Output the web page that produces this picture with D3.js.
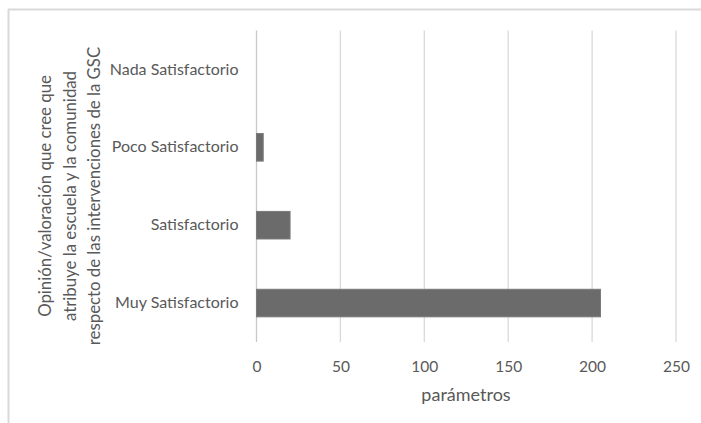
<!DOCTYPE html>
<html><head><meta charset="utf-8">
<script src="https://cdn.jsdelivr.net/npm/d3@7"></script>
<style>body{margin:0;background:#fff}svg{display:block}</style>
</head><body><svg id="c" width="701" height="423"></svg>
<script>
const categories = ["Nada Satisfactorio", "Poco Satisfactorio", "Satisfactorio", "Muy Satisfactorio"];
const values = [0, 4, 20, 205];
const xTicks = [0, 50, 100, 150, 200, 250];
const yTitleLines = ["Opinión/valoración que cree que", "atribuye la escuela y la comunidad", "respecto de las intervenciones de la GSC"];
const xTitle = "parámetros";

const svg = d3.select("#c");
const font = "Lato, 'Open Sans', sans-serif";
const textColor = "#595959";

// frame
svg.append("line").attr("x1", 8).attr("x2", 701).attr("y1", 9.5).attr("y2", 9.5).attr("stroke", "#d9d9d9").attr("stroke-width", 2);
svg.append("line").attr("x1", 8.5).attr("x2", 8.5).attr("y1", 9).attr("y2", 423).attr("stroke", "#d9d9d9").attr("stroke-width", 2);

const x = d3.scaleLinear().domain([0, 250]).range([256.5, 676]);
const y = d3.scaleBand().domain(categories).range([30.5, 342]).paddingInner(0.646).paddingOuter(0.323);

// gridlines
svg.append("g").selectAll("line").data(xTicks).join("line")
  .attr("x1", d => x(d)).attr("x2", d => x(d)).attr("y1", 30.5).attr("y2", 342)
  .attr("stroke", d => d === 0 ? "#c8c8c8" : "#d9d9d9").attr("stroke-width", 1.3);

// bars
svg.append("g").selectAll("rect").data(values).join("rect")
  .attr("x", x(0)).attr("y", (d, i) => y(categories[i]))
  .attr("width", d => x(d) - x(0)).attr("height", y.bandwidth())
  .attr("fill", "#6b6b6b").attr("stroke", d => d > 0 ? "#7a7a7a" : "none").attr("stroke-width", 1);

// x axis tick labels
const xAxis = d3.axisBottom(x).tickValues(xTicks).tickSize(0).tickPadding(0);
const gx = svg.append("g").attr("transform", "translate(0,361)").call(xAxis);
gx.select(".domain").remove();
gx.selectAll("text").attr("font-family", font).attr("font-size", 15.5).attr("fill", textColor);

// y axis labels
const yAxis = d3.axisLeft(y).tickSize(0).tickPadding(18);
const gy = svg.append("g").attr("transform", `translate(${x(0)},0)`).call(yAxis);
gy.select(".domain").remove();
gy.selectAll("text").attr("font-family", font).attr("font-size", 16).attr("fill", textColor);

// x title
svg.append("text").attr("x", 466).attr("y", 401).attr("text-anchor", "middle")
  .attr("font-family", font).attr("font-size", 18).attr("fill", textColor).text(xTitle);

// y title
const yt = svg.append("text").attr("transform", "translate(0,196) rotate(-90)")
  .attr("text-anchor", "middle").attr("font-family", font).attr("font-size", 16.8).attr("fill", textColor);
yTitleLines.forEach((l, i) => {
  yt.append("tspan").attr("x", 0).attr("y", 51 + i * 24.5).text(l);
});
</script></body></html>
